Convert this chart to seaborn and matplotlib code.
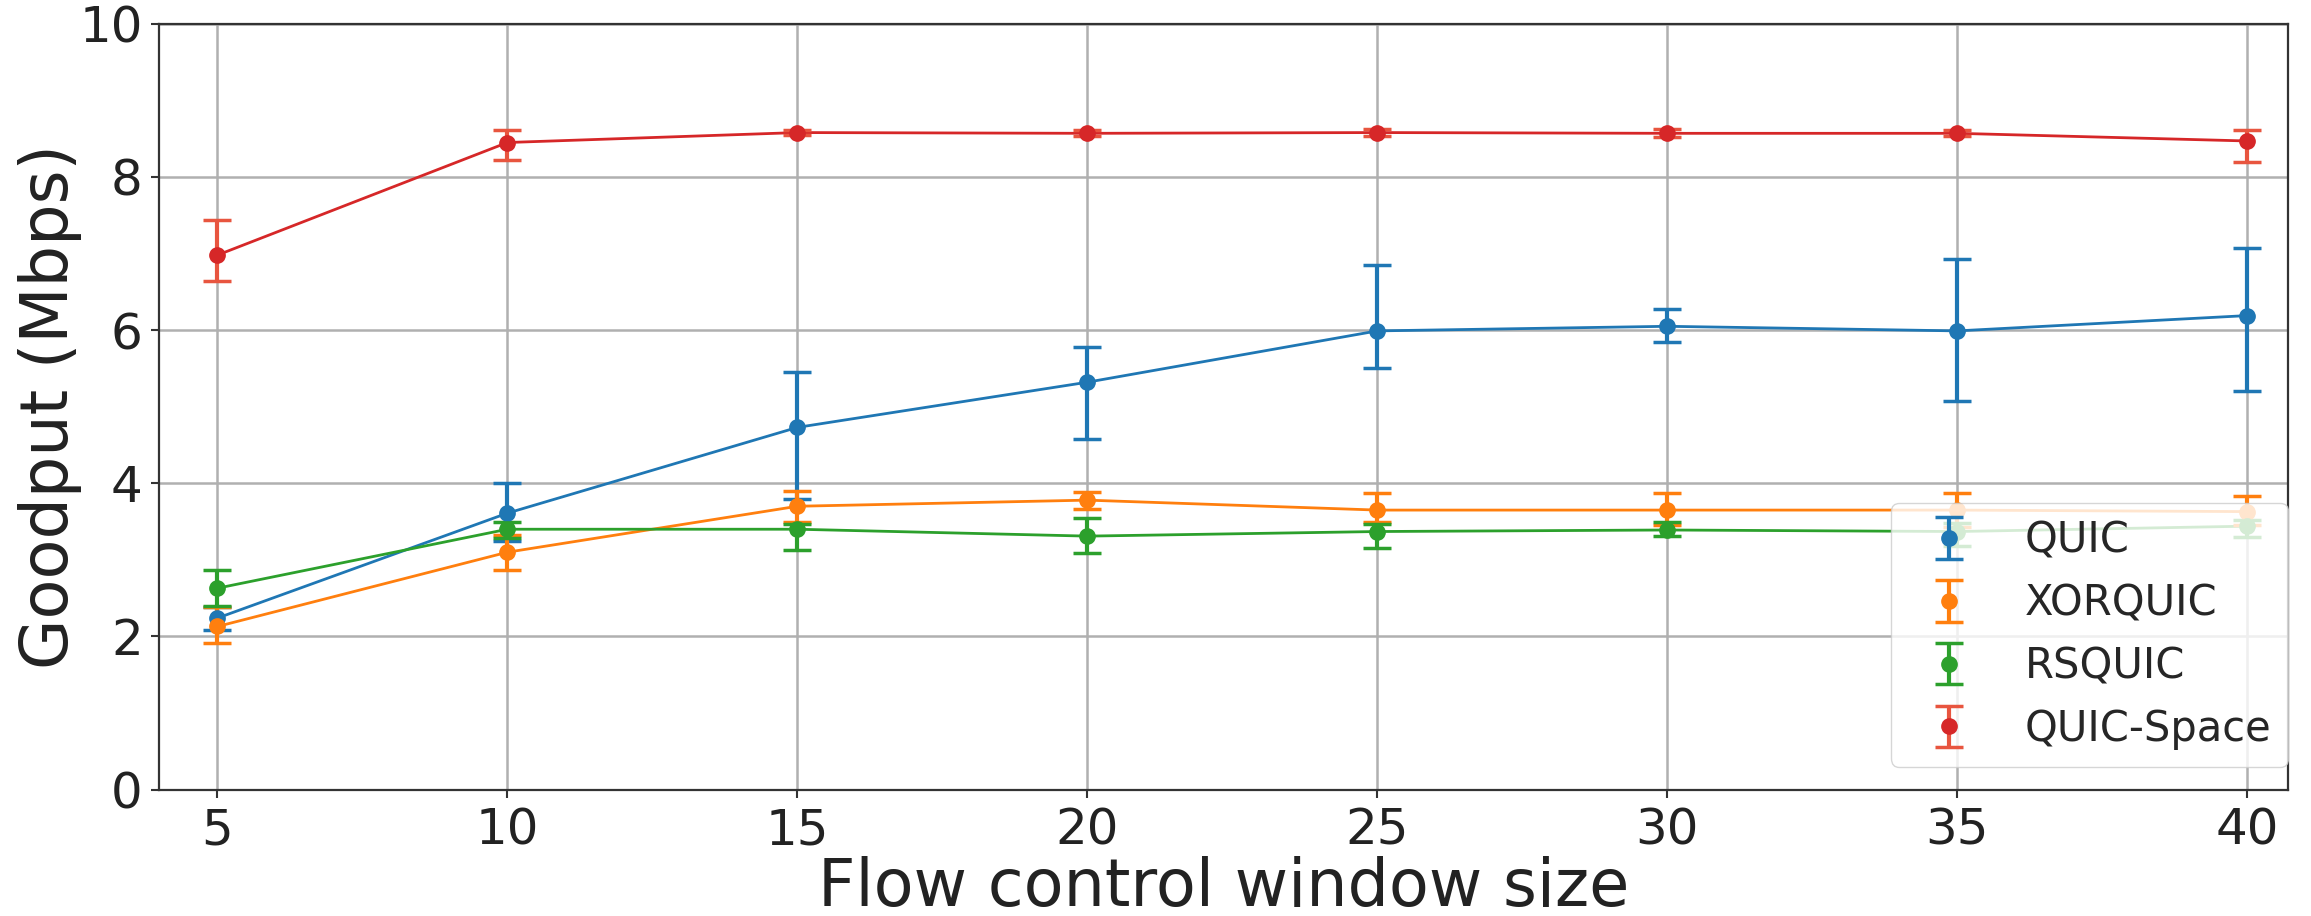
import matplotlib
matplotlib.use("Agg")
import numpy as np
import pandas as pd
import seaborn as sns
import matplotlib.pyplot as plt

# ---- data ----
window = [5, 10, 15, 20, 25, 30, 35, 40]
protocols = ["QUIC", "XORQUIC", "RSQUIC", "QUIC-Space"]

quic = [2.24, 3.61, 4.73, 5.32, 5.99, 6.05, 5.99, 6.19]
quic_lo = [2.09, 3.25, 3.80, 4.58, 5.50, 5.84, 5.07, 5.20]
quic_hi = [2.38, 4.00, 5.45, 5.78, 6.85, 6.28, 6.93, 7.07]

xor = [2.13, 3.10, 3.70, 3.78, 3.65, 3.65, 3.65, 3.63]
xor_lo = [1.91, 2.87, 3.50, 3.66, 3.49, 3.45, 3.43, 3.45]
xor_hi = [2.38, 3.32, 3.90, 3.88, 3.87, 3.87, 3.87, 3.83]

rs = [2.63, 3.40, 3.40, 3.31, 3.37, 3.39, 3.37, 3.44]
rs_lo = [2.40, 3.29, 3.13, 3.09, 3.16, 3.31, 3.18, 3.30]
rs_hi = [2.87, 3.50, 3.47, 3.55, 3.47, 3.50, 3.48, 3.52]

space = [6.98, 8.45, 8.58, 8.57, 8.58, 8.57, 8.57, 8.47]
space_lo = [6.64, 8.22, 8.55, 8.53, 8.54, 8.52, 8.53, 8.19]
space_hi = [7.44, 8.61, 8.61, 8.61, 8.62, 8.62, 8.61, 8.61]

y_ticks = [0, 2, 4, 6, 8, 10]
x_ticks = window

colors = {"QUIC": "#1f77b4", "XORQUIC": "#ff7f0e", "RSQUIC": "#2ca02c", "QUIC-Space": "#d62728"}
ecolors = {"QUIC": "#1f77b4", "XORQUIC": "#ff7f0e", "RSQUIC": "#2ca02c", "QUIC-Space": "#e8553f"}

series = {
    "QUIC": (quic, quic_lo, quic_hi),
    "XORQUIC": (xor, xor_lo, xor_hi),
    "RSQUIC": (rs, rs_lo, rs_hi),
    "QUIC-Space": (space, space_lo, space_hi),
}

rows = []
for p in protocols:
    for w, v in zip(window, series[p][0]):
        rows.append({"window": w, "goodput": v, "protocol": p})
df = pd.DataFrame(rows)

sns.set_theme(style="ticks")
plt.rcParams["font.family"] = ["DejaVu Sans"]

fig, ax = plt.subplots(figsize=(23.11, 9.16), dpi=100)
fig.subplots_adjust(left=0.069, right=0.990, top=0.974, bottom=0.138)

sns.lineplot(data=df, x="window", y="goodput", hue="protocol", hue_order=protocols,
             palette=colors, marker="o", markersize=11, markeredgewidth=0,
             linewidth=2.0, legend=False, ax=ax, zorder=3)

for p in protocols:
    y, lo, hi = series[p]
    y = np.array(y); lo = np.array(lo); hi = np.array(hi)
    ax.errorbar(window, y, yerr=[y - lo, hi - y], fmt="o", color=colors[p],
                ecolor=ecolors[p], elinewidth=3, capsize=10, capthick=2.5,
                markersize=11, label=p, zorder=3)

ax.set_xlim(4.0, 40.7)
ax.set_ylim(0, 10)
ax.set_xticks(x_ticks)
ax.set_yticks(y_ticks)
ax.grid(True, color="#b0b0b0", linewidth=1.8)
ax.set_axisbelow(True)
for s in ax.spines.values():
    s.set_color("#333333")
    s.set_linewidth(1.6)
ax.tick_params(axis="both", labelsize=36, length=6, width=1.5, color="#333333",
               labelcolor="#222222", pad=6)
ax.set_xlabel("Flow control window size", fontsize=47, color="#222222", labelpad=1)
ax.set_ylabel("Goodput (Mbps)", fontsize=47, color="#222222", labelpad=-2)

ax.legend(loc="lower right", bbox_to_anchor=(1.0, 0.03), fontsize=30,
          framealpha=0.8, borderaxespad=0)

fig.savefig("out.png", dpi=100)
